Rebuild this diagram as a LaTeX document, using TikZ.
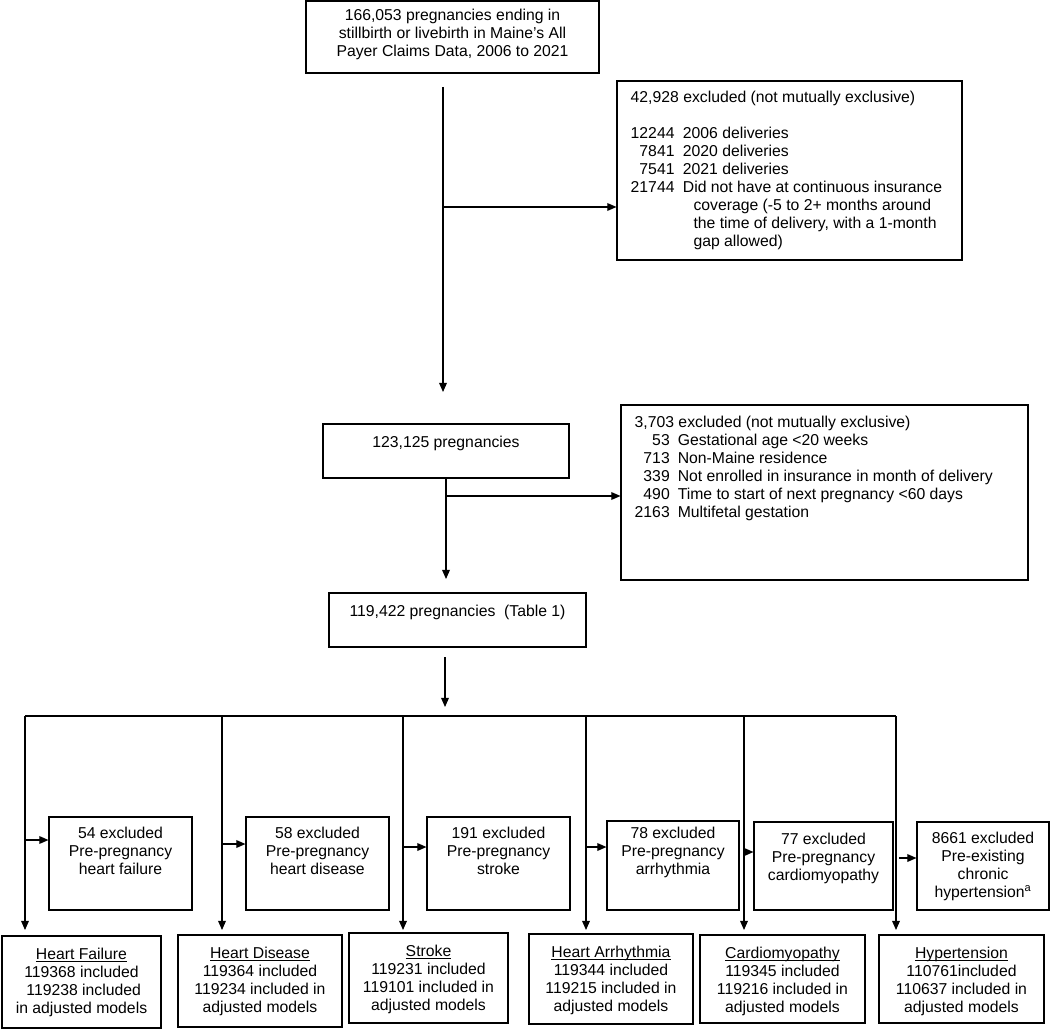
\documentclass[tikz,border=0pt]{standalone}
\usepackage{fontspec}
\setmainfont{Liberation Sans}
\usetikzlibrary{arrows.meta,fit,calc}
\newlength\titlew
\newcommand\titleul[1]{\settowidth{\titlew}{#1}\rlap{\rule[-1.6pt]{\titlew}{0.55pt}}#1}

\begin{document}
\begin{tikzpicture}[x=0.025cm,y=-0.025cm,
  box/.style={draw,line width=0.8pt,inner sep=0pt},
  txt/.style={inner sep=0pt,align=center,font=\fontsize{11.2}{12.8}\selectfont},
  lst/.style={inner sep=0pt,anchor=north west,font=\fontsize{11.2}{12.8}\selectfont},
  conn/.style={line width=0.8pt},
  arr/.style={conn,-{Triangle[length=6.5pt,width=5.5pt]}}]
\useasboundingbox (0,0) rectangle (1050,1029);

% upper part
\node[box,fit={(306,1) (599,73)}] (all) {};
\node[txt,anchor=north] (allt) at ($(all.north)+(0,8)$) {166,053 pregnancies ending in\\stillbirth or livebirth in Maine's All\\Payer Claims Data, 2006 to 2021};

\node[box,fit={(617,81) (962,260)}] (excla) {};
\node[lst] (exclat) at ($(excla.north west)+(14,9)$) {\begin{tabular}{@{}r@{\hspace{6pt}}l@{}}
\multicolumn{2}{@{}l@{}}{42,928 excluded (not mutually exclusive)}\\
\\
12244 & 2006 deliveries\\
7841 & 2020 deliveries\\
7541 & 2021 deliveries\\
21744 & Did not have at continuous insurance\\
 & \hspace{7.5pt}coverage (-5 to 2+ months around\\
 & \hspace{7.5pt}the time of delivery, with a 1-month\\
 & \hspace{7.5pt}gap allowed)
\end{tabular}};

\node[box,fit={(323,424) (569,478)}] (preg) {};
\node[txt,anchor=north] (pregt) at ($(preg.north)+(0,12)$) {123,125 pregnancies};

\node[box,fit={(621,405) (1028,580)}] (exclb) {};
\node[lst] (exclbt) at ($(exclb.north west)+(14,10)$) {\begin{tabular}{@{}r@{\hspace{5.7pt}}l@{}}
\multicolumn{2}{@{}l@{}}{3,703 excluded (not mutually exclusive)}\\
53 & Gestational age <20 weeks\\
713 & Non-Maine residence\\
339 & Not enrolled in insurance in month of delivery\\
490 & Time to start of next pregnancy <60 days\\
2163 & Multifetal gestation
\end{tabular}};

\node[box,fit={(329,593) (586,647)}] (cohort) {};
\node[txt,anchor=north] (cohortt) at ($(cohort.north)+(0,12)$) {119,422 pregnancies\ \ (Table 1)};

\coordinate (s1) at (443,87);
\coordinate (b1) at (443,207);
\coordinate (e1) at (443,392);
\draw[conn] (s1) -- (b1);
\draw[arr] (b1) -- (e1);
\draw[arr] (b1) -- (b1 -| excla.west);

\coordinate (b2) at (446,496);
\coordinate (e2) at (446,579);
\draw[arr] (preg.south) -- (e2);
\draw[arr] (b2) -- (b2 -| exclb.west);

\coordinate (s3) at (445,657);
\coordinate (e3) at (445,707);
\draw[arr] (s3) -- (e3);

% outcome branches
\coordinate (barL) at (25,716);
\coordinate (barR) at (896,716);
\draw[conn] (barL) -- (barR);
\foreach \n/\x in {1/25,2/222,3/403,4/586,5/744,6/896}{
  \coordinate (t\n) at (\x,716);
  \coordinate (d\n) at (\x,930);
  \draw[arr] (t\n) -- (d\n);
}

\node[box,fit={(49,817) (192,910)}] (hfx) {};
\node[txt,anchor=north] (hfxt) at ($(hfx.north)+(0,10)$) {54 excluded\\Pre-pregnancy\\heart failure};
\node[box,fit={(246,817) (389,910)}] (hdx) {};
\node[txt,anchor=north] (hdxt) at ($(hdx.north)+(0,10)$) {58 excluded\\Pre-pregnancy\\heart disease};
\node[box,fit={(427,817) (570,910)}] (stx) {};
\node[txt,anchor=north] (stxt) at ($(stx.north)+(0,10)$) {191 excluded\\Pre-pregnancy\\stroke};
\node[box,fit={(607,821) (739,910)}] (arx) {};
\node[txt,anchor=north] (arxt) at ($(arx.north)+(0,6)$) {78 excluded\\Pre-pregnancy\\arrhythmia};
\node[box,fit={(754,822) (893,910)}] (cmx) {};
\node[txt,anchor=north] (cmxt) at ($(cmx.north)+(0,11)$) {77 excluded\\Pre-pregnancy\\cardiomyopathy};
\node[box,fit={(917,822) (1049,910)}] (htx) {};
\node[txt,anchor=north] (htxt) at ($(htx.north)+(0,10)$) {8661 excluded\\Pre-existing\\chronic\\hypertension\textsuperscript{a}};

\coordinate (a1) at (25,840);
\coordinate (a2) at (222,844);
\coordinate (a3) at (403,847);
\coordinate (a4) at (586,847);
\coordinate (a5) at (744,852);
\coordinate (a6) at (899,858);
\draw[arr] (a1) -- (a1 -| hfx.west);
\draw[arr] (a2) -- (a2 -| hdx.west);
\draw[arr] (a3) -- (a3 -| stx.west);
\draw[arr] (a4) -- (a4 -| arx.west);
\draw[arr] (a5) -- (a5 -| cmx.west);
\draw[arr] (a6) -- (a6 -| htx.west);

% included samples
\node[box,fit={(2,936) (161,1028)}] (hf) {};
\node[txt,anchor=north] (hft) at ($(hf.north)+(0,12)$) {\titleul{Heart Failure}\\119368 included\\\ 119238 included\\in adjusted models};
\node[box,fit={(178,935) (342,1027)}] (hd) {};
\node[txt,anchor=north] (hdt) at ($(hd.north)+(0,12)$) {\titleul{Heart Disease}\\119364 included\\119234 included in\\adjusted models};
\node[box,fit={(349,933) (508,1023)}] (st) {};
\node[txt,anchor=north] (stt) at ($(st.north)+(0,12)$) {\titleul{Stroke}\\119231 included\\119101 included in\\adjusted models};
\node[box,fit={(529,934) (693,1024)}] (ar) {};
\node[txt,anchor=north] (art) at ($(ar.north)+(0,12)$) {\titleul{Heart Arrhythmia}\\119344 included\\119215 included in\\adjusted models};
\node[box,fit={(700,935) (865,1023)}] (cm) {};
\node[txt,anchor=north] (cmt) at ($(cm.north)+(0,12)$) {\titleul{Cardiomyopathy}\\119345 included\\119216 included in\\adjusted models};
\node[box,fit={(879,935) (1044,1023)}] (ht) {};
\node[txt,anchor=north] (htt) at ($(ht.north)+(0,12)$) {\titleul{Hypertension}\\110761included\\110637 included in\\adjusted models};
\end{tikzpicture}
\end{document}
